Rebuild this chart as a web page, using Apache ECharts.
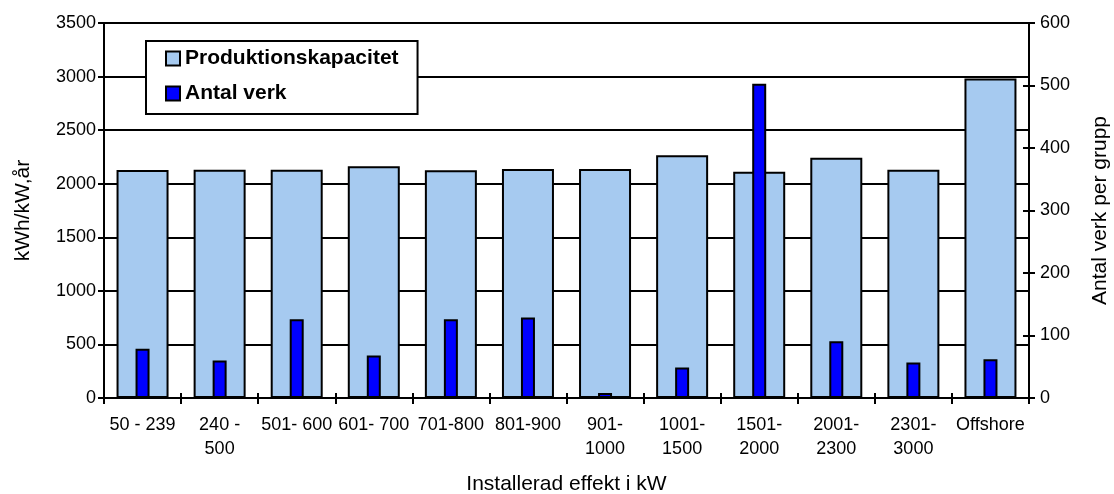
<!DOCTYPE html>
<html>
<head>
<meta charset="utf-8">
<script src="https://cdn.jsdelivr.net/npm/echarts@6/dist/echarts.min.js"></script>
<style>
html,body{margin:0;padding:0;background:#fff;}
#c{width:1114px;height:494px;}
</style>
</head>
<body>
<div id="c"></div>
<script>
const categories = ["50 - 239", "240 -\n500", "501- 600", "601- 700", "701-800", "801-900", "901-\n1000", "1001-\n1500", "1501-\n2000", "2001-\n2300", "2301-\n3000", "Offshore"];
const produktionskapacitet = [2128, 2130, 2130, 2162, 2126, 2137, 2137, 2265, 2112, 2242, 2130, 2983];
const antalVerk = [79, 60, 126, 68, 126, 129, 8, 49, 503, 91, 57, 62];
const leftTicks = {min: 0, max: 3500, interval: 500};
const rightTicks = {min: 0, max: 600, interval: 100};

const FONT = "'Liberation Sans', Arial, sans-serif";
const plain = v => String(v);
const LW = 2;
const chart = echarts.init(document.getElementById('c'));
chart.setOption({
  backgroundColor: '#fff',
  animation: false,
  textStyle: {fontFamily: FONT, color: '#000'},
  grid: {left: 104, right: 85, top: 23, bottom: 96, containLabel: false, outerBoundsMode: 'none'},
  legend: {
    left: 146, top: 41,
    orient: 'vertical',
    backgroundColor: '#fff',
    borderColor: '#000',
    borderWidth: LW,
    padding: [7, 19, 10, 19],
    itemGap: 14,
    itemWidth: 14,
    itemHeight: 14,
    icon: 'rect',
    textStyle: {fontFamily: FONT, fontSize: 21, fontWeight: 'bold', color: '#000', lineHeight: 20},
    data: ['Produktionskapacitet', 'Antal verk']
  },
  xAxis: [{
    type: 'category',
    data: categories,
    position: 'bottom',
    name: 'Installerad effekt i kW',
    nameLocation: 'middle',
    nameGap: 76,
    nameTextStyle: {fontFamily: FONT, fontSize: 21, color: '#000'},
    axisLine: {lineStyle: {color: '#000', width: LW}},
    axisTick: {show: true, length: 6, lineStyle: {color: '#000', width: LW}},
    axisLabel: {interval: 0, fontFamily: FONT, fontSize: 18, color: '#000', lineHeight: 24, margin: 15},
    splitLine: {show: false}
  }, {
    type: 'category',
    data: categories,
    position: 'bottom',
    axisLine: {show: false},
    axisTick: {show: true, inside: true, length: 5, lineStyle: {color: '#000', width: LW}},
    axisLabel: {show: false},
    splitLine: {show: false}
  }],
  yAxis: [{
    type: 'value',
    position: 'left',
    min: leftTicks.min, max: leftTicks.max, interval: leftTicks.interval,
    name: 'kWh/kW,år',
    nameLocation: 'middle',
    nameGap: 70,
    nameRotate: 90,
    nameTextStyle: {fontFamily: FONT, fontSize: 21, color: '#000'},
    axisLine: {show: true, lineStyle: {color: '#000', width: LW}},
    axisTick: {show: true, length: 6, lineStyle: {color: '#000', width: LW}},
    axisLabel: {fontFamily: FONT, fontSize: 18, color: '#000', margin: 8, formatter: plain},
    splitLine: {show: true, lineStyle: {color: '#000', width: LW}}
  }, {
    type: 'value',
    position: 'right',
    min: rightTicks.min, max: rightTicks.max, interval: rightTicks.interval,
    name: 'Antal verk per grupp',
    nameLocation: 'middle',
    nameGap: 61,
    nameRotate: 90,
    nameTextStyle: {fontFamily: FONT, fontSize: 21, color: '#000'},
    axisLine: {show: true, lineStyle: {color: '#000', width: LW}},
    axisTick: {show: true, length: 6, lineStyle: {color: '#000', width: LW}},
    axisLabel: {fontFamily: FONT, fontSize: 18, color: '#000', margin: 11, formatter: plain},
    splitLine: {show: false}
  }, {
    type: 'value',
    position: 'right',
    min: rightTicks.min, max: rightTicks.max, interval: rightTicks.interval,
    axisLine: {show: false},
    axisTick: {show: true, inside: true, length: 6, lineStyle: {color: '#000', width: LW}},
    axisLabel: {show: false},
    splitLine: {show: false}
  }],
  series: [{
    name: 'Produktionskapacitet',
    type: 'bar',
    xAxisIndex: 0,
    yAxisIndex: 0,
    data: produktionskapacitet,
    barWidth: 52,
    itemStyle: {color: '#A6CAF0', borderColor: '#000', borderWidth: LW}
  }, {
    name: 'Antal verk',
    type: 'bar',
    xAxisIndex: 1,
    yAxisIndex: 1,
    data: antalVerk,
    barWidth: 14,
    itemStyle: {color: '#0000FF', borderColor: '#000', borderWidth: LW}
  }]
});
</script>
</body>
</html>
